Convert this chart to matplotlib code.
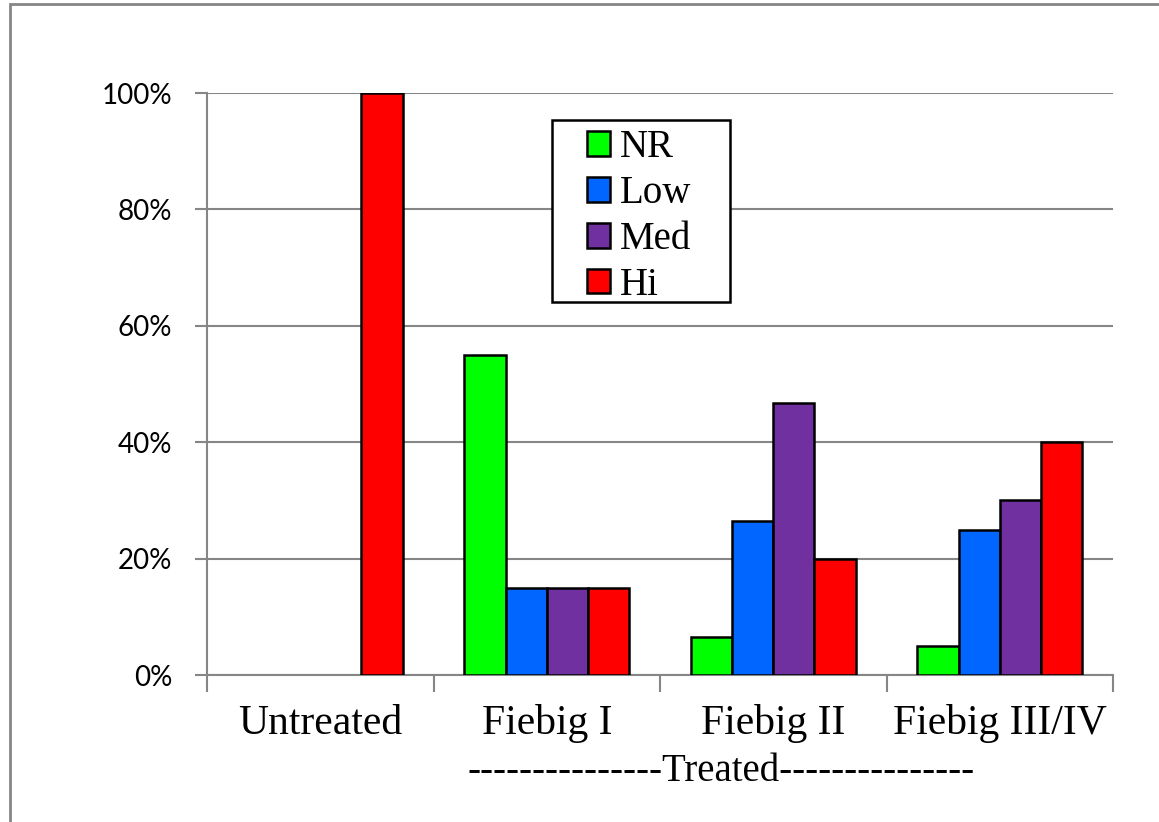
import matplotlib
matplotlib.use("Agg")
import matplotlib.pyplot as plt
import numpy as np
from matplotlib.patches import Patch, Rectangle

categories = ["Untreated", "Fiebig I", "Fiebig II", "Fiebig III/IV"]
series = ["NR", "Low", "Med", "Hi"]
nr = [0, 55, 6.6, 5]
low = [0, 15, 26.5, 25]
med = [0, 15, 46.8, 30]
hi = [100, 15, 20, 40]
colors = ["#00ff00", "#0066ff", "#7030a0", "#ff0000"]
y_ticks = [0, 20, 40, 60, 80, 100]
y_tick_labels = ["0%", "20%", "40%", "60%", "80%", "100%"]
group_label = "---------------Treated---------------"

W, H = 1159, 822
fig = plt.figure(figsize=(W / 100, H / 100), dpi=100)
ax = fig.add_axes([207 / W, 1 - 675 / H, (1113 - 207) / W, (675 - 93) / H])

gray = "#868686"
serif = "Liberation Serif"
x = np.arange(len(categories))
bw = 0.182
for i, (name, vals) in enumerate(zip(series, [nr, low, med, hi])):
    bars = ax.bar(x + (i - 1.5) * bw, vals, width=bw, color=colors[i], edgecolor="black",
                  linewidth=1.8, label=name, zorder=3)
    for b, v in zip(bars, vals):
        if v == 0:
            b.set_visible(False)

ax.set_xlim(-0.5, len(categories) - 0.5)
ax.set_ylim(0, 100)
ax.set_yticks(y_ticks)
ax.set_yticklabels(y_tick_labels, fontfamily="Lato", fontsize=20)
ax.yaxis.grid(True, color=gray, linewidth=1.5, zorder=0)
ax.set_axisbelow(True)
ax.tick_params(axis="y", length=9, width=1.5, color=gray, pad=16)

ax.set_xticks(np.arange(-0.5, len(categories), 1.0))
ax.set_xticklabels([])
ax.set_xticks(x, minor=True)
ax.set_xticklabels(categories, minor=True, fontfamily=serif, fontsize=30)
ax.tick_params(axis="x", which="major", length=12, width=1.5, color=gray)
ax.tick_params(axis="x", which="minor", length=0, pad=21)

for side in ["top", "right"]:
    ax.spines[side].set_visible(False)
for side in ["left", "bottom"]:
    ax.spines[side].set_color(gray)
    ax.spines[side].set_linewidth(1.5)

ax.text(1.77, -16.5, group_label, ha="center", va="center", fontfamily=serif,
        fontsize=28, clip_on=False)

# legend box drawn as a plain rectangle, entries placed inside it
ax.add_patch(Rectangle((552 / W, 1 - 302 / H), (730 - 552) / W, (302 - 120) / H,
                       transform=fig.transFigure, facecolor="white", edgecolor="black",
                       linewidth=1.8, zorder=4, clip_on=False))
handles = [Patch(facecolor=c, edgecolor="black", linewidth=1.8) for c in colors]
leg = ax.legend(handles, series, loc="upper left",
                bbox_to_anchor=((587 - 207) / 906, (675 - 129) / 582),
                prop={"family": serif, "size": 28}, frameon=False,
                handlelength=0.6, handleheight=0.6, handletextpad=0.25, labelspacing=0.23,
                borderpad=0, borderaxespad=0)
leg.set_zorder(5)

fig.patches.append(Rectangle((10 / W, -0.01), (W - 9) / W, 1 - 4 / H + 0.01, transform=fig.transFigure,
                             fill=False, edgecolor=gray, linewidth=2))

fig.savefig("out.png", dpi=100)
